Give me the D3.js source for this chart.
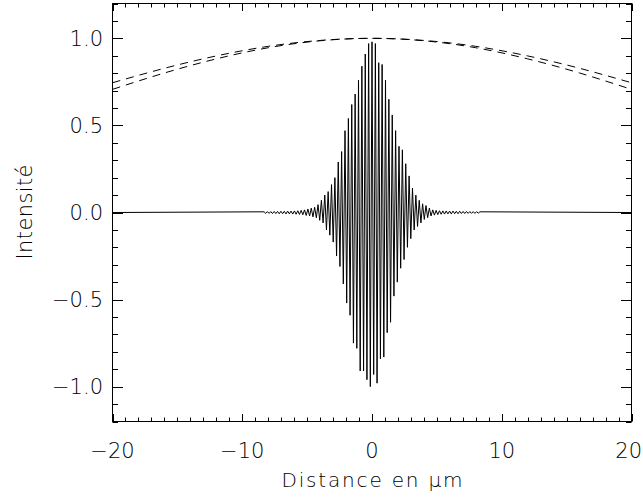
<!DOCTYPE html>
<html><head><meta charset="utf-8">
<script src="https://cdn.jsdelivr.net/npm/d3@7"></script>
<style>
html,body{margin:0;padding:0;background:#fff;}
svg{display:block;}
text{font-family:"DejaVu Sans",sans-serif;font-weight:200;fill:#000;}
</style></head>
<body>
<svg id="chart" width="643" height="498"></svg>
<script>
// ---- data ----
const xTickLabels = [-20, -10, 0, 10, 20];
const yTickLabels = [-1.0, -0.5, 0.0, 0.5, 1.0];

// fringe maxima (µm, intensity)
const peakX = [-8.32,-8.06,-7.80,-7.54,-7.28,-7.02,-6.76,-6.50,-6.24,-5.98,-5.72,-5.46,-5.20,-4.94,-4.68,-4.42,-4.16,-3.90,-3.64,-3.38,-3.12,-2.86,-2.60,-2.34,-2.08,-1.82,-1.56,-1.30,-1.04,-0.78,-0.52,-0.26,0.00,0.26,0.52,0.78,1.04,1.30,1.56,1.82,2.08,2.34,2.60,2.86,3.12,3.38,3.64,3.90,4.16,4.42,4.68,4.94,5.20,5.46,5.72,5.98,6.24,6.50,6.76,7.02,7.28,7.54,7.80,8.06,8.32];
const peakY = [0.004,0.005,0.005,0.006,0.006,0.007,0.007,0.008,0.008,0.009,0.010,0.012,0.015,0.020,0.025,0.030,0.045,0.070,0.100,0.120,0.160,0.200,0.290,0.350,0.470,0.540,0.620,0.680,0.760,0.840,0.910,0.970,0.980,0.970,0.860,0.850,0.760,0.650,0.560,0.470,0.380,0.360,0.280,0.210,0.140,0.100,0.070,0.050,0.040,0.025,0.015,0.012,0.010,0.009,0.009,0.008,0.008,0.007,0.007,0.006,0.006,0.005,0.005,0.005,0.004];
// fringe minima (µm, intensity)
const troughX = [-8.19,-7.93,-7.67,-7.41,-7.15,-6.89,-6.63,-6.37,-6.11,-5.85,-5.59,-5.33,-5.07,-4.81,-4.55,-4.29,-4.03,-3.77,-3.51,-3.25,-2.99,-2.73,-2.47,-2.21,-1.95,-1.69,-1.43,-1.17,-0.91,-0.65,-0.39,-0.13,0.13,0.39,0.65,0.91,1.17,1.43,1.69,1.95,2.21,2.47,2.73,2.99,3.25,3.51,3.77,4.03,4.29,4.55,4.81,5.07,5.33,5.59,5.85,6.11,6.37,6.63,6.89,7.15,7.41,7.67,7.93,8.19];
const troughY = [-0.005,-0.005,-0.006,-0.006,-0.007,-0.007,-0.008,-0.008,-0.009,-0.010,-0.011,-0.013,-0.017,-0.020,-0.025,-0.030,-0.045,-0.060,-0.100,-0.130,-0.170,-0.250,-0.310,-0.410,-0.520,-0.590,-0.750,-0.780,-0.910,-0.910,-0.960,-1.000,-0.930,-0.980,-0.840,-0.830,-0.690,-0.630,-0.480,-0.400,-0.320,-0.270,-0.200,-0.150,-0.100,-0.080,-0.060,-0.040,-0.030,-0.020,-0.015,-0.012,-0.010,-0.009,-0.008,-0.008,-0.007,-0.007,-0.006,-0.006,-0.005,-0.005,-0.005,-0.004];
// baseline ends
const baseX = [-20, 20];
const baseY = [0, 0];

// dashed envelope curves
const envX = [-20,-16,-12,-8,-4,0,4,8,12,16,20];
const envUpperY = [0.745,0.828,0.899,0.954,0.988,1.0,0.988,0.954,0.899,0.828,0.745];
const envLowerY = [0.707,0.801,0.882,0.946,0.986,1.0,0.986,0.946,0.882,0.801,0.707];

// ---- drawing ----
const svg = d3.select("#chart");
const W = 643;
const L = 112.5, R = 631.5, T = 3.5, B = 421.5;
const x = d3.scaleLinear().domain([-20, 20]).range([L, R]);
const y = d3.scaleLinear().domain([-1.2, 1.2]).range([B, T]);

svg.append("clipPath").attr("id","clip").append("rect")
  .attr("x", L).attr("y", T).attr("width", R-L).attr("height", B-T);

// build the signal polyline
let pts = [];
pts.push([baseX[0], baseY[0]]);
peakX.forEach((v,i)=>pts.push([v, peakY[i]]));
troughX.forEach((v,i)=>pts.push([v, troughY[i]]));
pts.push([baseX[1], baseY[1]]);
pts.sort((a,b)=>a[0]-b[0]);

const line = d3.line().x(d=>x(d[0])).y(d=>y(d[1]));
const g = svg.append("g").attr("clip-path","url(#clip)");
g.append("path").attr("d", line(pts)).attr("fill","none")
  .attr("stroke","#000").attr("stroke-width",1);

const envLine = d3.line().x(d=>x(d[0])).y(d=>y(d[1])).curve(d3.curveNatural);
[envUpperY, envLowerY].forEach(arr=>{
  g.append("path").attr("d", envLine(envX.map((v,i)=>[v, arr[i]])))
    .attr("fill","none").attr("stroke","#000").attr("stroke-width",1)
    .attr("stroke-dasharray","8,6");
});

// ticks (inward, all four sides)
const xMinor = d3.range(-20, 20.001, 1);
const yMinor = d3.range(-12, 12.001, 1).map(v=>v/10);
function isMajorX(v){return Math.abs(v%10)<1e-6;}
function isMajorY(v){return Math.abs(Math.round(v*10)%5)===0;}
const tk = svg.append("g").attr("stroke","#000").attr("stroke-width",1);
xMinor.forEach(v=>{
  const len = isMajorX(v) ? 7.5 : 4;
  const px = Math.round(x(v)) + 0.5;
  tk.append("line").attr("x1",px).attr("x2",px).attr("y1",B).attr("y2",B-len);
  tk.append("line").attr("x1",px).attr("x2",px).attr("y1",T).attr("y2",T+len);
});
yMinor.forEach(v=>{
  const len = isMajorY(v) ? 10.5 : 5.5;
  const py = Math.round(y(v)) + 0.5;
  tk.append("line").attr("x1",L).attr("x2",L+len).attr("y1",py).attr("y2",py);
  tk.append("line").attr("x1",R).attr("x2",R-len).attr("y1",py).attr("y2",py);
});
svg.append("rect").attr("x",L).attr("y",T).attr("width",R-L).attr("height",B-T)
  .attr("fill","none").attr("stroke","#000").attr("stroke-width",1);

// labels
const fmtY = v => (v<0?"\u2212":"") + Math.abs(v).toFixed(1);
const fmtX = v => (v<0?"\u2212":"") + Math.abs(v);
svg.append("g").selectAll("text").data(yTickLabels).join("text")
  .attr("x", 103).attr("y", d=>y(d)).attr("dy","0.36em")
  .attr("text-anchor","end").attr("font-size",21).text(fmtY);
svg.append("g").selectAll("text").data(xTickLabels).join("text")
  .attr("x", d=> x(d) + 14 > W ? W - 1 : x(d))
  .attr("y", 458)
  .attr("text-anchor", d=> x(d) + 14 > W ? "end" : "middle")
  .attr("font-size",21).text(fmtX);

svg.append("text").attr("x",(L+R)/2).attr("y",487)
  .attr("text-anchor","middle").attr("font-size",20)
  .attr("textLength",181).attr("lengthAdjust","spacing")
  .text("Distance en \u03bcm");

svg.append("text").attr("transform","translate(31.5,212) rotate(-90)")
  .attr("text-anchor","middle").attr("font-size",21)
  .attr("textLength",95).attr("lengthAdjust","spacing").text("Intensité");
</script>
</body></html>
